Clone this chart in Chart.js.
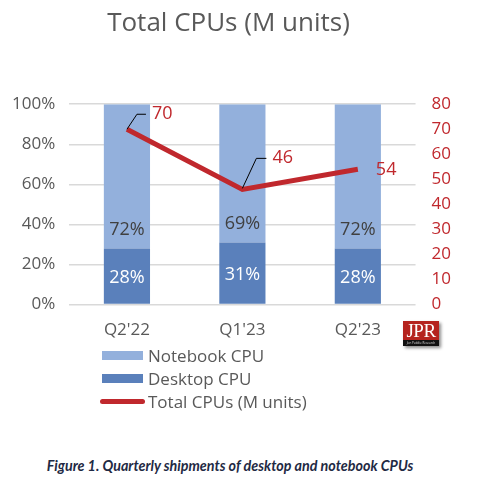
<!DOCTYPE html>
<html>
<head>
<meta charset="utf-8">
<script src="https://cdn.jsdelivr.net/npm/chart.js@4"></script>
<style>
  body { margin: 0; background: #fff; width: 480px; height: 483px; position: relative; overflow: hidden; font-family: "Open Sans", sans-serif; }
  #wrap { position: absolute; left: 0; top: 0; }
  #legend { position: absolute; left: 100px; top: 344px; }
  .item { height: 23px; display: flex; align-items: center; color: #595959; font-size: 17px; }
  .sw { width: 41px; height: 9px; margin: 0 5px 0 2px; }
  .sw.line { width: 45px; height: 5px; border-radius: 3px; margin: 0 3px 0 0; }
  #logo { position: absolute; left: 403px; top: 321px; width: 36px; height: 25px; box-shadow: 2px 2px 3px rgba(0,0,0,0.45); }
  #logo .top { background: #b5231f; height: 19px; color: #fff; font-family: "Liberation Serif", serif; font-size: 19px; line-height: 20px; text-align: center; letter-spacing: -0.5px; }
  #logo .bot { background: #111; height: 6px; color: #ddd; font-size: 3px; line-height: 6px; text-align: center; white-space: nowrap; overflow: hidden; }
  #caption { position: absolute; left: 0; width: 460px; top: 457px; text-align: center; font-family: Lato, sans-serif; font-style: italic; font-weight: bold; font-size: 14.3px; color: #1f2a44; }
</style>
</head>
<body>
<div id="wrap"><canvas id="cpuChart" width="480" height="361"></canvas></div>
<div id="legend"></div>
<div id="logo"><div class="top">JPR</div><div class="bot">Jon Peddie Research</div></div>
<div id="caption">Figure 1. Quarterly shipments of desktop and notebook CPUs</div>
<script>
// Dados do gráfico
const quarters = ["Q2'22", "Q1'23", "Q2'23"];
const desktopShare = [28, 31, 28];
const notebookShare = [72, 69, 72];
const totalCpus = [70, 46, 54];
const shareTicks = [0, 20, 40, 60, 80, 100];
const unitTicks = [0, 10, 20, 30, 40, 50, 60, 70, 80];

const red = "#c0282d";
const grey = "#595959";

// Rótulos das barras e da linha
const labelPlugin = {
  id: "labels",
  afterDatasetsDraw(chart) {
    const ctx = chart.ctx;
    ctx.save();
    ctx.font = "18px 'Open Sans'";
    ctx.textAlign = "center";
    ctx.textBaseline = "middle";

    chart.getDatasetMeta(0).data.forEach((bar, i) => {
      ctx.fillStyle = "#ffffff";
      ctx.fillText(desktopShare[i] + "%", bar.x, (bar.y + bar.base) / 2 + 2);
    });
    chart.getDatasetMeta(1).data.forEach((bar, i) => {
      ctx.fillStyle = "#404040";
      ctx.fillText(notebookShare[i] + "%", bar.x, bar.base - 19);
    });

    // posições dos rótulos da linha (deslocamento a partir do ponto)
    const offs = [
      { dx: 25, dy: -15, leader: [[0, 0], [10, -15], [19, -15]] },
      { dx: 30, dy: -31, leader: [[0, -1], [14, -31], [24, -31]] },
      { dx: 18, dy: 1, leader: null }
    ];
    ctx.textAlign = "left";
    chart.getDatasetMeta(2).data.forEach((pt, i) => {
      const o = offs[i];
      if (o.leader) {
        ctx.strokeStyle = "#000";
        ctx.lineWidth = 1;
        ctx.beginPath();
        o.leader.forEach((p, k) => {
          if (k === 0) ctx.moveTo(pt.x + p[0], pt.y + p[1]);
          else ctx.lineTo(pt.x + p[0], pt.y + p[1]);
        });
        ctx.stroke();
      }
      ctx.fillStyle = red;
      ctx.fillText(totalCpus[i], pt.x + o.dx, pt.y + o.dy);
    });
    ctx.restore();
  }
};

const chart = new Chart(document.getElementById("cpuChart"), {
  data: {
    labels: quarters,
    datasets: [
      {
        type: "bar",
        label: "Desktop CPU",
        data: desktopShare,
        backgroundColor: "#5a80bb",
        yAxisID: "y",
        order: 1,
        barPercentage: 0.8,
        categoryPercentage: 0.5
      },
      {
        type: "bar",
        label: "Notebook CPU",
        data: notebookShare,
        backgroundColor: "#93b0dc",
        yAxisID: "y",
        order: 1,
        barPercentage: 0.8,
        categoryPercentage: 0.5
      },
      {
        type: "line",
        label: "Total CPUs (M units)",
        data: totalCpus,
        borderColor: red,
        backgroundColor: red,
        borderWidth: 5,
        pointRadius: 0,
        tension: 0,
        yAxisID: "y1",
        order: 0
      }
    ]
  },
  options: {
    responsive: false,
    animation: false,
    layout: { padding: { left: -2, right: 21, bottom: 14, top: 0 } },
    plugins: {
      legend: { display: false },
      tooltip: { enabled: false },
      title: {
        display: true,
        text: "Total CPUs (M units)",
        color: grey,
        font: { family: "'Open Sans'", size: 26, weight: "normal" },
        padding: { top: 8, bottom: 65 }
      }
    },
    scales: {
      x: {
        stacked: true,
        grid: { display: false },
        border: { display: false },
        ticks: { color: grey, font: { family: "'Open Sans'", size: 17 }, padding: 7 }
      },
      y: {
        stacked: true,
        position: "left",
        min: 0,
        max: 100,
        afterBuildTicks: (axis) => { axis.ticks = shareTicks.map((v) => ({ value: v })); },
        grid: { color: "#d9d9d9", lineWidth: 1.5, drawTicks: false },
        border: { display: false },
        ticks: { color: grey, font: { family: "'Open Sans'", size: 17 }, padding: 14, callback: (v) => v + "%" }
      },
      y1: {
        position: "right",
        min: 0,
        max: 80,
        afterBuildTicks: (axis) => { axis.ticks = unitTicks.map((v) => ({ value: v })); },
        grid: { display: false },
        border: { display: false },
        ticks: { color: red, font: { family: "'Open Sans'", size: 17 }, padding: 8 }
      }
    }
  },
  plugins: [labelPlugin]
});

// Legenda em HTML (ordem: notebook, desktop, total)
const legendEl = document.getElementById("legend");
[1, 0, 2].forEach((idx) => {
  const ds = chart.data.datasets[idx];
  const row = document.createElement("div");
  row.className = "item";
  const sw = document.createElement("span");
  sw.className = ds.type === "line" ? "sw line" : "sw";
  sw.style.background = ds.type === "line" ? ds.borderColor : ds.backgroundColor;
  row.appendChild(sw);
  row.appendChild(document.createTextNode(ds.label));
  legendEl.appendChild(row);
});
</script>
</body>
</html>
